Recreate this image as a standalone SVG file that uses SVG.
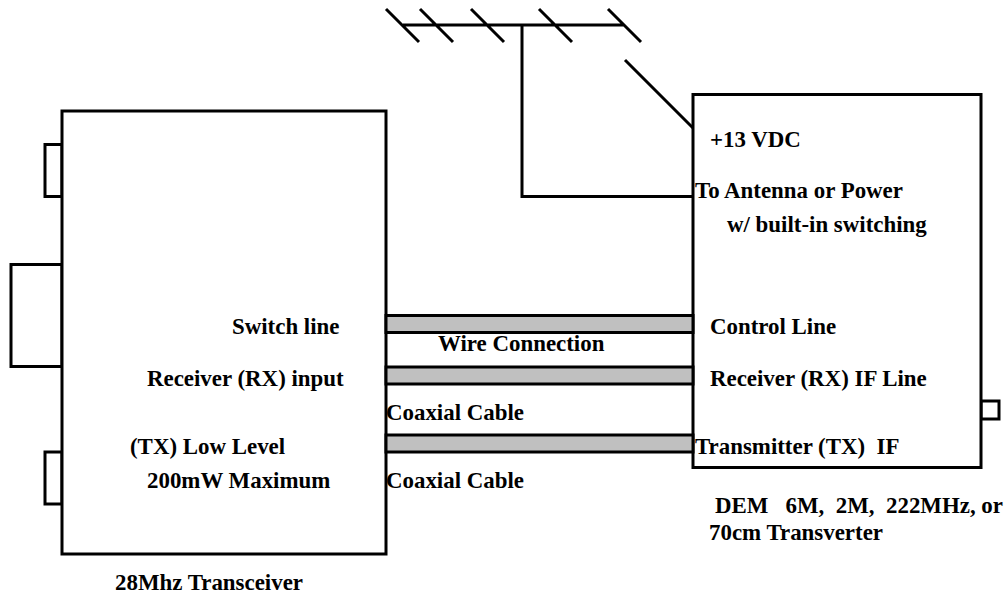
<svg xmlns="http://www.w3.org/2000/svg" width="1005" height="594" viewBox="0 0 1005 594">
<style>
.s{fill:#fff;stroke:#000;stroke-width:3}
.c{fill:#c0c0c0;stroke:#000;stroke-width:3}
.l{fill:none;stroke:#000;stroke-width:3}
text{font-family:"Liberation Serif","Times New Roman",serif;font-weight:bold;font-size:22.9px;fill:#000;white-space:pre}
</style>
<rect width="1005" height="594" fill="#fff"/>
<g id="transceiver">
<rect class="s" x="45" y="144.500" width="17" height="52"/>
<rect class="s" x="11" y="264.500" width="51" height="102"/>
<rect class="s" x="45" y="452" width="17" height="52"/>
<rect class="s" x="62" y="111" width="324" height="443"/>
<text x="232" y="334">Switch line</text>
<text x="147" y="386">Receiver (RX) input</text>
<text x="130" y="454">(TX) Low Level</text>
<text x="147" y="488">200mW Maximum</text>
<text x="115" y="590">28Mhz Transceiver</text>
</g>
<g id="transverter">
<rect class="s" x="981" y="401" width="18" height="18"/>
<rect class="s" x="693" y="94.500" width="288" height="373"/>
<text x="710" y="147">+13 VDC</text>
<text x="695" y="198">To Antenna or Power</text>
<text x="727" y="232">w/ built-in switching</text>
<text x="710" y="334">Control Line</text>
<text x="710" y="386">Receiver (RX) IF Line</text>
<text x="695" y="454">Transmitter (TX)  IF</text>
<text x="715" y="513">DEM   6M,  2M,  222MHz, or</text>
<text x="709" y="540">70cm Transverter</text>
</g>
<g id="connectors">
<rect class="c" x="386" y="315.500" width="307" height="17"/>
<rect class="c" x="386" y="367" width="307" height="17"/>
<rect class="c" x="386" y="435" width="307" height="17"/>
<path class="l" d="M403 25H624M386 9L419 42M420 9L453 42M471 9L504 42M539 9L572 42M608 9L641 42M625 60L693 128M522 25V196.500H693"/>
</g>
<g id="labels">
<text x="438" y="351">Wire Connection</text>
<text x="386" y="420">Coaxial Cable</text>
<text x="386" y="488">Coaxial Cable</text>
</g>
</svg>
